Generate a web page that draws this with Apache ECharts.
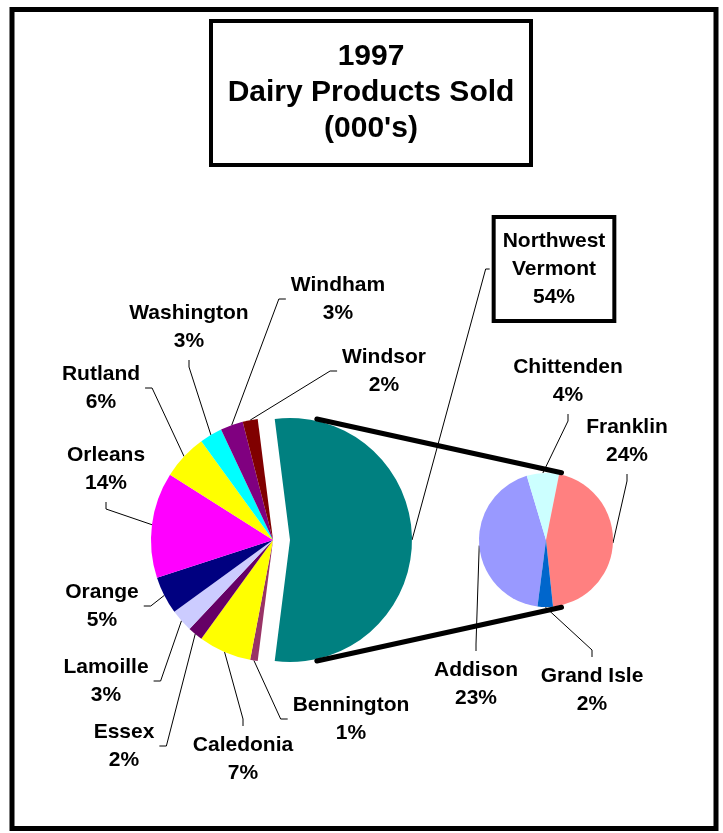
<!DOCTYPE html>
<html><head><meta charset="utf-8">
<script src="https://cdn.jsdelivr.net/npm/echarts@6/dist/echarts.min.js"></script>
<style>html,body{margin:0;padding:0;background:#fff}#c{width:723px;height:833px}</style>
</head><body><div id="c"></div>
<script>
// ---- data ----
const titleLines = ['1997', 'Dairy Products Sold', "(000's)"];
const counties = ['Bennington','Caledonia','Essex','Lamoille','Orange','Orleans','Rutland','Washington','Windham','Windsor'];
const countyValues = [1, 7, 2, 3, 5, 14, 6, 3, 3, 2];
const countyColors = ['#993366','#FFFF00','#660066','#CCCCFF','#000080','#FF00FF','#FFFF00','#00FFFF','#800080','#800000'];
const groupName = 'Northwest Vermont';
const groupColor = '#008080';
const nwCounties = ['Addison','Chittenden','Franklin','Grand Isle'];
const nwValues = [23.4, 4.2, 24.4, 2.0];
const nwColors = ['#9999FF','#CCFFFF','#FF8080','#0066CC'];

// ---- layout ----
const MAIN_C = [273, 540], R = 122, EXPLODE = 17;
const SEC_C = [546, 540], R2 = 67;
const SEC_START = 262.7;
const labelPos = {
  'Bennington':[351,719,'left'], 'Caledonia':[243,759,'top'], 'Essex':[124,746,'right'],
  'Lamoille':[106,681,'right'], 'Orange':[102,606,'right'], 'Orleans':[106,469,'bottom'],
  'Rutland':[101,388,'right'], 'Washington':[189,327,'bottom'], 'Windham':[338,299,'left'],
  'Windsor':[384,371,'left'], 'Northwest Vermont':[554,269,'box'],
  'Addison':[476,684,'top'], 'Chittenden':[568,381,'bottom'], 'Franklin':[627,441,'bottom'],
  'Grand Isle':[592,690,'top']
};

const sum = a => a.reduce((s, v) => s + v, 0);
const groupValue = sum(nwValues);
const countySum = sum(countyValues);
const grandTotal = countySum + groupValue;
const half = groupValue / grandTotal * 180;

function arcPoint(center, r, start, values, idx) {
  const total = sum(values);
  const before = sum(values.slice(0, idx));
  const mid = start - 360 * (before + values[idx] / 2) / total;
  const a = mid * Math.PI / 180;
  return [center[0] + r * Math.cos(a), center[1] - r * Math.sin(a)];
}

function makeLayout(center, r, start, values, names) {
  return function (p) {
    const name = names[p.dataIndex];
    const pos = labelPos[name];
    if (!pos) return {};
    const [x, y, side] = pos;
    const w = p.labelRect.width, h = p.labelRect.height;
    const arc = arcPoint(center, r, start, values, p.dataIndex);
    const GAP = 5, STUB = 7;
    let end, elbow;
    if (side === 'left') { end = [x - w / 2 - GAP, y]; elbow = [end[0] - STUB, y]; }
    else if (side === 'right') { end = [x + w / 2 + GAP, y]; elbow = [end[0] + STUB, y]; }
    else if (side === 'top') { end = [x, y - h / 2 - GAP]; elbow = [x, end[1] - STUB]; }
    else if (side === 'bottom') { end = [x, y + h / 2 + GAP]; elbow = [x, end[1] + STUB]; }
    else { end = [x - w / 2 - 2, y]; elbow = [end[0] - 4, y]; }
    return { x: x, y: y, align: 'center', verticalAlign: 'middle', labelLinePoints: [arc, elbow, end] };
  };
}

const labelFont = { fontFamily: 'Liberation Sans, Arial, sans-serif', fontWeight: 'bold', fontSize: 21, lineHeight: 28, color: '#000' };
const fmt = p => (p.seriesName === 'group' ? p.name.split(' ').join('\n') : p.name) + '\n' + Math.round(p.value / grandTotal * 100) + '%';
const hidden = { itemStyle: { opacity: 0 }, label: { show: false }, labelLine: { show: false } };

const mainNames = counties.concat(['']);
const mainVals = countyValues.concat([groupValue]);
const mainData = counties.map((n, i) => ({ name: n, value: countyValues[i], itemStyle: { color: countyColors[i] } }))
  .concat([Object.assign({ name: '', value: groupValue }, hidden)]);
const grpNames = [groupName, ''];
const grpVals = [groupValue, countySum];
const grpData = [{ name: groupName, value: groupValue, itemStyle: { color: groupColor },
  label: { borderColor: '#000', borderWidth: 4, padding: [10, 9] } },
  Object.assign({ name: '', value: countySum }, hidden)];
const secData = nwCounties.map((n, i) => ({ name: n, value: nwValues[i], itemStyle: { color: nwColors[i] } }));
const GRP_C = [MAIN_C[0] + EXPLODE, MAIN_C[1]];

const commonPie = {
  type: 'pie', silent: true, animation: false, avoidLabelOverlap: false, clockwise: true,
  emphasis: { disabled: true },
  label: Object.assign({ show: true, position: 'outside', formatter: fmt }, labelFont),
  labelLine: { show: true, length: 10, length2: 10, lineStyle: { color: '#000', width: 1 } },
  itemStyle: { borderWidth: 0 }
};

function rad(d) { return d * Math.PI / 180; }
const topMain = [GRP_C[0] + (R + 2) * Math.sin(rad(12.5)), GRP_C[1] - (R + 2) * Math.cos(rad(12.5))];
const botMain = [topMain[0], 2 * GRP_C[1] - topMain[1]];
const topSec = [SEC_C[0] + (R2 + 2) * Math.sin(rad(13)), SEC_C[1] - (R2 + 2) * Math.cos(rad(13))];
const botSec = [topSec[0], 2 * SEC_C[1] - topSec[1]];

const chart = echarts.init(document.getElementById('c'), null, { renderer: 'canvas' });
chart.setOption({
  backgroundColor: '#fff',
  animation: false,
  title: {
    text: titleLines.join('\n'), left: 354, top: 21, textAlign: 'center',
    padding: [18, 17], borderColor: '#000', borderWidth: 4,
    textStyle: { fontFamily: 'Liberation Sans, Arial, sans-serif', fontWeight: 'bold', fontSize: 30, lineHeight: 36, color: '#000' }
  },
  graphic: [
    { type: 'rect', shape: { x: 12, y: 9.5, width: 704, height: 819 }, style: { fill: 'none', stroke: '#000', lineWidth: 5 }, z: 100 },
    { type: 'line', shape: { x1: topMain[0], y1: topMain[1], x2: topSec[0], y2: topSec[1] }, style: { stroke: '#000', lineWidth: 5, lineCap: 'round' }, z: 100 },
    { type: 'line', shape: { x1: botMain[0], y1: botMain[1], x2: botSec[0], y2: botSec[1] }, style: { stroke: '#000', lineWidth: 5, lineCap: 'round' }, z: 100 }
  ],
  series: [
    Object.assign({}, commonPie, { name: 'counties', center: MAIN_C, radius: [0, R], startAngle: -half, data: mainData,
      labelLayout: makeLayout(MAIN_C, R, -half, mainVals, mainNames) }),
    Object.assign({}, commonPie, { name: 'group', center: GRP_C, radius: [0, R], startAngle: half, data: grpData,
      labelLayout: makeLayout(GRP_C, R, half, grpVals, grpNames) }),
    Object.assign({}, commonPie, { name: 'northwest', center: SEC_C, radius: [0, R2], startAngle: SEC_START, data: secData,
      labelLayout: makeLayout(SEC_C, R2, SEC_START, nwValues, nwCounties) })
  ]
});
</script></body></html>
